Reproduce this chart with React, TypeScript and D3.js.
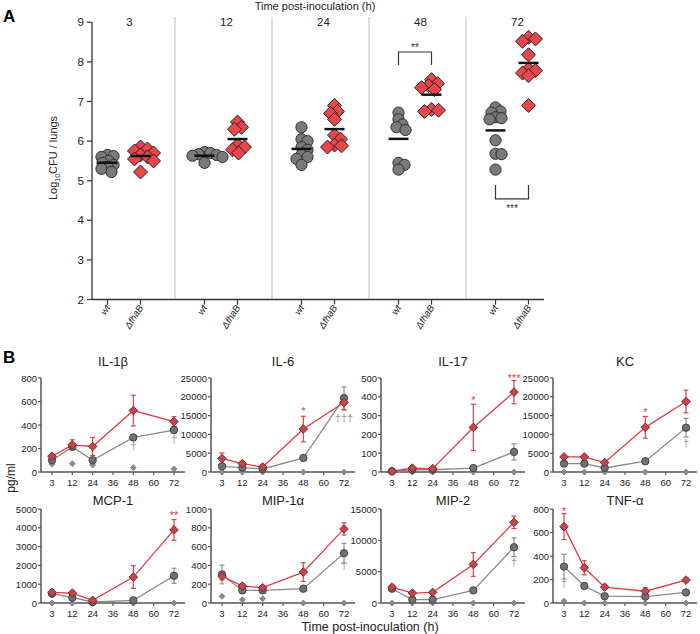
import React from 'react';
import * as d3 from 'd3';

// ---- Panel A: lung CFU (log10) per mouse ----
const groups = ["3", "12", "24", "48", "72"];
const wtCfu = [
  [5.65, 5.6, 5.62, 5.5, 5.45, 5.4, 5.35, 5.3, 5.22],
  [5.72, 5.7, 5.67, 5.65, 5.63, 5.6, 5.45],
  [6.35, 6.05, 6.0, 5.85, 5.78, 5.65, 5.6, 5.55, 5.4],
  [6.72, 6.55, 6.42, 6.35, 6.28, 5.45, 5.4, 5.28],
  [6.85, 6.75, 6.72, 6.6, 6.58, 6.55, 6.02, 5.68, 5.67, 5.28],
];
const mutCfu = [
  [5.85, 5.8, 5.75, 5.7, 5.65, 5.6, 5.55, 5.5, 5.22],
  [6.48, 6.35, 6.3, 5.9, 5.85, 5.78, 5.7],
  [6.9, 6.75, 6.7, 6.55, 6.15, 6.05, 5.9, 5.88, 5.85],
  [7.55, 7.45, 7.4, 7.35, 7.3, 6.8, 6.78, 6.75],
  [8.62, 8.58, 8.52, 8.18, 7.82, 7.78, 7.72, 7.65, 6.9],
];
const cfuTicks = [2, 3, 4, 5, 6, 7, 8, 9];

// ---- Panel B: cytokines ----
const hours = [3, 12, 24, 48, 72];
const hourTicks = ["3", "12", "24", "36", "48", "60", "72"];
const cytokines = ["IL-1β", "IL-6", "IL-17", "KC", "MCP-1", "MIP-1α", "MIP-2", "TNF-α"];
const yMax = [800, 25000, 500, 25000, 5000, 1000, 15000, 800];
const yStep = [200, 5000, 100, 5000, 1000, 200, 5000, 200];
const mutMean = [
  [134, 231, 217, 523, 429],
  [3570, 2230, 1340, 11430, 18480],
  [4, 21, 18, 237, 425],
  [4020, 4020, 2500, 11875, 18750],
  [565, 530, 141, 1378, 3887],
  [286, 180, 163, 329, 788],
  [2540, 1590, 1700, 6150, 12880],
  [650, 300, 135, 100, 195],
];
const mutErr = [
  [15, 43, 77, 131, 42],
  [1500, 400, 300, 3400, 2000],
  [3, 8, 5, 123, 62],
  [300, 300, 200, 2900, 3000],
  [150, 100, 80, 600, 550],
  [40, 20, 20, 100, 65],
  [300, 200, 200, 1900, 1000],
  [110, 60, 15, 30, 15],
];
const wtMean = [
  [100, 214, 100, 294, 357],
  [1520, 1160, 800, 3750, 19640],
  [4, 12, 12, 21, 107],
  [2230, 2230, 1070, 2860, 11780],
  [495, 283, 53, 141, 1449],
  [304, 134, 134, 152, 530],
  [2280, 530, 530, 2010, 8900],
  [310, 145, 58, 55, 90],
];
const wtErr = [
  [15, 20, 10, 15, 25],
  [500, 300, 200, 300, 3000],
  [3, 3, 3, 5, 43],
  [200, 200, 200, 200, 2500],
  [100, 80, 30, 50, 400],
  [100, 15, 15, 10, 105],
  [200, 100, 100, 200, 1500],
  [105, 20, 5, 5, 8],
];
const ctrlMean = [
  [66, 71, 60, 37, 26],
  [0, 0, 0, 0, 0],
  [0, 0, 0, 0, 0],
  [0, 0, 0, 0, 0],
  [0, 0, 0, 0, 0],
  [71, 35, 46, 0, 0],
  [0, 0, 0, 0, 0],
  [17, 0, 0, 0, 0],
];
const stars = [
  { p: 1, t: 48, v: 16500, s: "*" },
  { p: 2, t: 48, v: 388, s: "*" },
  { p: 2, t: 72, v: 505, s: "***" },
  { p: 3, t: 48, v: 16300, s: "*" },
  { p: 4, t: 72, v: 4730, s: "**" },
  { p: 7, t: 3, v: 790, s: "*" },
];
const daggers = [
  { p: 0, t: 48, v: 220, s: "†" },
  { p: 0, t: 72, v: 285, s: "†" },
  { p: 1, t: 72, v: 14360, s: "†††" },
  { p: 3, t: 72, v: 7600, s: "†" },
  { p: 5, t: 72, v: 400, s: "†" },
  { p: 6, t: 72, v: 6500, s: "†" },
  { p: 7, t: 3, v: 170, s: "†" },
];

const FONT = "'Liberation Sans', Arial, sans-serif";
const RED = "#e23c42";
const RED_FILL = "#e8464b";
const GRAY = "#8a8a8a";

// simple dodge so overlapping points spread sideways (points may still overlap a bit)
function dodge(vals: number[], y: (v: number) => number, minD: number) {
  const order = vals.map((v, i) => i).sort((a, b) => vals[b] - vals[a]);
  const placed: { x: number; y: number }[] = [];
  const out = new Array(vals.length).fill(0);
  order.forEach(i => {
    const py = y(vals[i]);
    let k = 0;
    for (let step = 0; step < 60; step++) {
      const cand = step === 0 ? 0 : (step % 2 ? 1 : -1) * Math.ceil(step / 2);
      const ok = placed.every(p => Math.hypot(p.x - cand, p.y - py) >= minD);
      if (ok) { k = cand; break; }
    }
    placed.push({ x: k, y: py });
    out[i] = k;
  });
  return out;
}

function diamond(cx: number, cy: number, r: number) {
  return `M${cx},${cy - r}L${cx + r},${cy}L${cx},${cy + r}L${cx - r},${cy}Z`;
}

function PanelA() {
  const y = d3.scaleLinear().domain([2, 9]).range([299.5, 22.3]);
  const xb = d3.scaleBand().domain(groups).range([78, 563]);
  const bw = xb.bandwidth();
  const axisL = 92, axisR = 544;

  return (
    <g fontFamily={FONT}>
      <text x={3} y={22} fontSize={17} fontWeight="bold">A</text>
      <text x={315} y={10} fontSize={11} textAnchor="middle" fill="#222">Time post-inoculation (h)</text>
      <text transform={`translate(57,158) rotate(-90)`} fontSize={11} textAnchor="middle" fill="#222">
        Log<tspan fontSize={7} dy={3}>10</tspan><tspan dy={-3}>CFU / lungs</tspan>
      </text>
      {groups.slice(0, -1).map(g => (
        <line key={g} x1={(xb(g) as number) + bw} x2={(xb(g) as number) + bw} y1={17} y2={299}
          stroke="#d4d4d4" strokeWidth={1.5} />
      ))}
      <line x1={axisL} x2={axisL} y1={y(9)} y2={y(2)} stroke="#333" strokeWidth={1.3} />
      {cfuTicks.map(t => (
        <g key={t}>
          <line x1={axisL - 5} x2={axisL} y1={y(t)} y2={y(t)} stroke="#333" strokeWidth={1.2} />
          <text x={axisL - 8} y={y(t) + 4} fontSize={11.5} textAnchor="end" fill="#222">{t}</text>
        </g>
      ))}
      <line x1={axisL} x2={axisR} y1={y(2)} y2={y(2)} stroke="#333" strokeWidth={1.3} />
      {groups.map((g, gi) => {
        const c = (xb(g) as number) + bw / 2;
        const xw = c - 19, xm = c + 14;
        const wtOff = dodge(wtCfu[gi], y, 6);
        const mutOff = dodge(mutCfu[gi], y, 6.5);
        const wtAvg = d3.mean(wtCfu[gi]) as number;
        const mutAvg = d3.mean(mutCfu[gi]) as number;
        return (
          <g key={g}>
            <text x={c + 3} y={26} fontSize={11.5} textAnchor="middle" fill="#222">{g}</text>
            {[xw, xm].map((x, j) => (
              <g key={j}>
                <line x1={x} x2={x} y1={y(2)} y2={y(2) + 5} stroke="#333" strokeWidth={1.2} />
                <text transform={`translate(${x + 3},${y(2) + 8}) rotate(-58)`} fontSize={9.5}
                  fontStyle="italic" textAnchor="end" fill="#222">{j === 0 ? "wt" : "ΔfhaB"}</text>
              </g>
            ))}
            {wtCfu[gi].map((v, i) => (
              <circle key={i} cx={xw + wtOff[i]} cy={y(v)} r={5.6} fill="#7a7a7a" stroke="#2e2e2e" strokeWidth={1} />
            ))}
            <line x1={xw - 10} x2={xw + 10} y1={y(wtAvg)} y2={y(wtAvg)} stroke="#111" strokeWidth={2.5} />
            {mutCfu[gi].map((v, i) => (
              <path key={i} d={diamond(xm + mutOff[i], y(v), 7)} fill={RED_FILL} stroke="#222" strokeWidth={1} />
            ))}
            <line x1={xm - 10} x2={xm + 10} y1={y(mutAvg)} y2={y(mutAvg)} stroke="#111" strokeWidth={2.5} />
          </g>
        );
      })}
      {(() => {
        const c48 = (xb("48") as number) + bw / 2;
        const c72 = (xb("72") as number) + bw / 2;
        return (
          <g stroke="#333" strokeWidth={1.2} fill="none">
            <path d={`M${c48 - 19},${y(7.92)}V${y(8.25)}H${c48 + 14}V${y(7.92)}`} />
            <text x={c48 - 2.5} y={y(8.4) + 5} fontSize={10} textAnchor="middle" fill="#333" stroke="none">**</text>
            <path d={`M${c72 - 19},${y(4.89)}V${y(4.54)}H${c72 + 14}V${y(4.89)}`} />
            <text x={c72 - 2.5} y={y(4.34) + 5} fontSize={10} textAnchor="middle" fill="#333" stroke="none">***</text>
          </g>
        );
      })()}
    </g>
  );
}

function Cytokine({ i }: { i: number }) {
  const col = i % 4, row = Math.floor(i / 4);
  const axisX = [41, 211, 381, 553][col];
  const zeroY = [472, 603][row];
  const topY = zeroY - 94;
  const titleY = [366, 505][row];
  const x = d3.scalePoint<string>().domain(hourTicks).range([axisX + 11, axisX + 133]);
  const y = d3.scaleLinear().domain([0, yMax[i]]).range([zeroY, topY]);
  const yt = d3.range(0, yMax[i] + 1, yStep[i]);
  const hx = (h: number) => x(String(h)) as number;
  const line = d3.line<number>().x((d, k) => hx(hours[k])).y(d => y(d));

  const errBars = (mean: number[], err: number[], color: string) =>
    mean.map((m, k) => {
      const cx = hx(hours[k]);
      const lo = y(Math.max(0, m - err[k])), hi = y(m + err[k]);
      return (
        <g key={k} stroke={color} strokeWidth={1.2}>
          <line x1={cx} x2={cx} y1={hi} y2={lo} />
          <line x1={cx - 2.5} x2={cx + 2.5} y1={hi} y2={hi} />
          <line x1={cx - 2.5} x2={cx + 2.5} y1={lo} y2={lo} />
        </g>
      );
    });

  return (
    <g fontFamily={FONT}>
      <text x={axisX + 72} y={titleY} fontSize={13} textAnchor="middle" fill="#222">{cytokines[i]}</text>
      <line x1={axisX} x2={axisX} y1={topY} y2={zeroY} stroke="#555" strokeWidth={1.5} />
      {yt.map(t => (
        <g key={t}>
          <line x1={axisX - 3} x2={axisX} y1={y(t)} y2={y(t)} stroke="#555" strokeWidth={1.2} />
          <text x={axisX - 4} y={y(t) + 3.5} fontSize={9.5} textAnchor="end" fill="#222">{t}</text>
        </g>
      ))}
      <line x1={axisX} x2={axisX + 144} y1={zeroY} y2={zeroY} stroke="#555" strokeWidth={1.5} />
      {hourTicks.map(t => (
        <g key={t}>
          <line x1={x(t)} x2={x(t)} y1={zeroY} y2={zeroY + 3} stroke="#555" strokeWidth={1.2} />
          <text x={x(t)} y={zeroY + 14} fontSize={9.5} textAnchor="middle" fill="#222">{t}</text>
        </g>
      ))}
      <path d={line(wtMean[i]) as string} fill="none" stroke={GRAY} strokeWidth={1.3} />
      <path d={line(mutMean[i]) as string} fill="none" stroke={RED} strokeWidth={1.3} />
      {errBars(wtMean[i], wtErr[i], "#8c8c8c")}
      {errBars(mutMean[i], mutErr[i], "#d9434a")}
      {ctrlMean[i].map((v, k) => (
        <path key={k} d={diamond(hx(hours[k]), y(v), 3)} fill="#8c8c84" stroke="#6a6a64" strokeWidth={0.6} />
      ))}
      {wtMean[i].map((v, k) => (
        <circle key={k} cx={hx(hours[k])} cy={y(v)} r={3.7} fill="#727272" stroke="#3a3a3a" strokeWidth={0.9} />
      ))}
      {mutMean[i].map((v, k) => (
        <path key={k} d={diamond(hx(hours[k]), y(v), 4.3)} fill="#c6454c" stroke="#6e2227" strokeWidth={0.9} />
      ))}
      {stars.filter(s => s.p === i).map((s, k) => (
        <text key={k} x={hx(s.t)} y={y(s.v) + 5} fontSize={11} textAnchor="middle" fill={RED}>{s.s}</text>
      ))}
      {daggers.filter(s => s.p === i).map((s, k) => (
        <text key={k} x={hx(s.t)} y={y(s.v) + 4} fontSize={11} textAnchor="middle" fill="#9a9a9a">{s.s}</text>
      ))}
    </g>
  );
}

export default function App() {
  return (
    <svg width={700} height={634} style={{ position: "absolute", left: 0, top: 0, background: "#fff" }}>
      <rect width={700} height={634} fill="#fff" />
      <PanelA />
      <g fontFamily={FONT}>
        <text x={3} y={363} fontSize={17} fontWeight="bold">B</text>
        <text transform="translate(15,478) rotate(-90)" fontSize={12} textAnchor="middle" fill="#222">pg/ml</text>
        <text x={370} y={631} fontSize={12.5} textAnchor="middle" fill="#222">Time post-inoculation (h)</text>
      </g>
      {cytokines.map((c, i) => <Cytokine key={c} i={i} />)}
    </svg>
  );
}
